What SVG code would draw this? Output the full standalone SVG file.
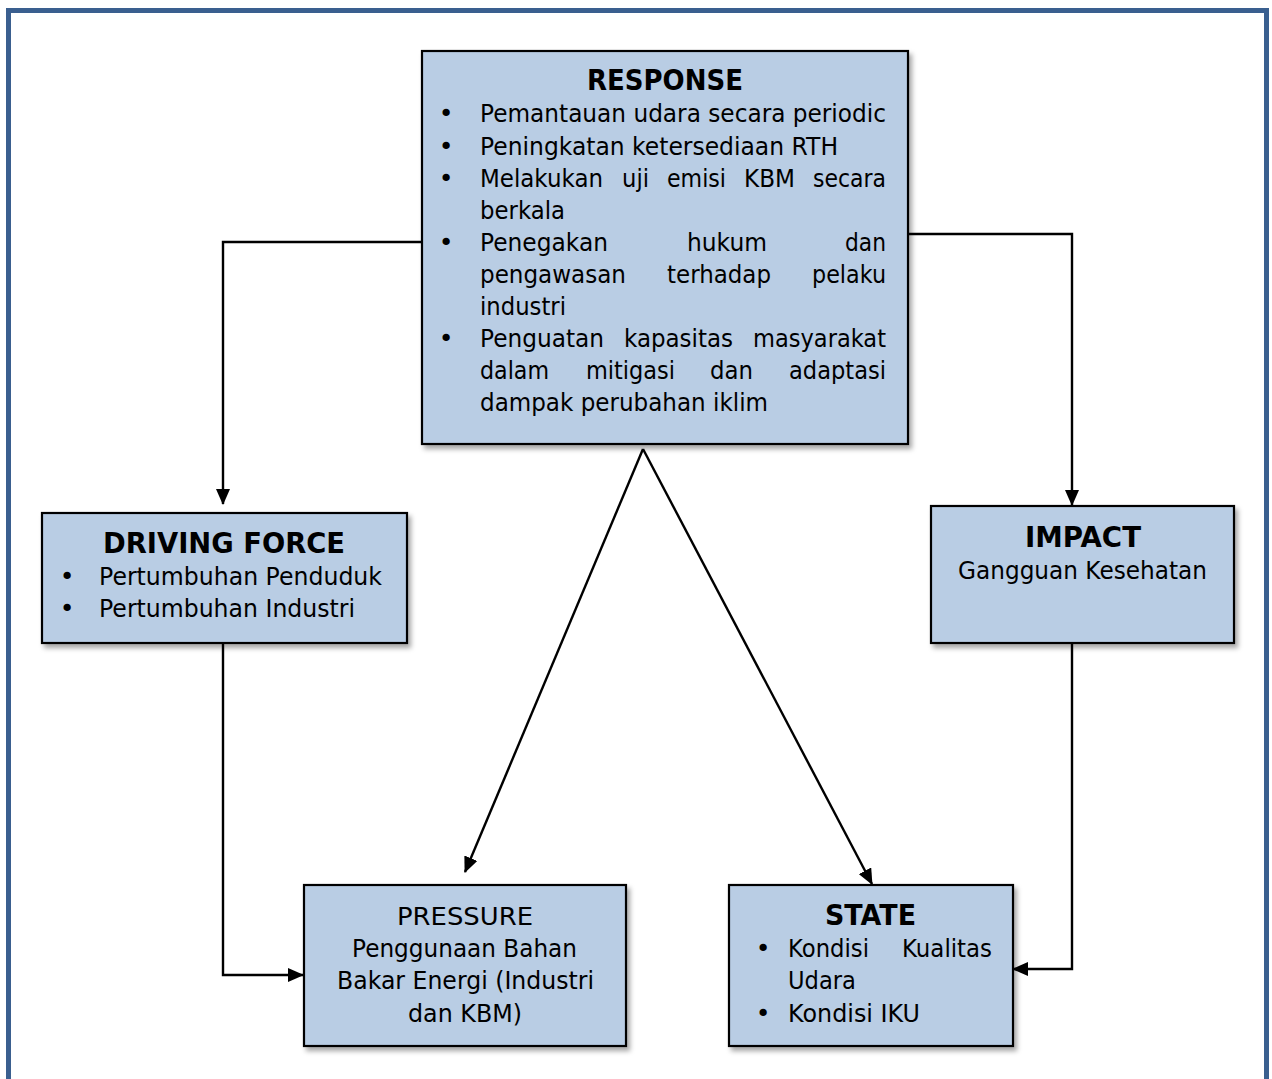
<svg xmlns="http://www.w3.org/2000/svg" width="1272" height="1079" viewBox="0 0 1272 1079">
<defs>
<style>
.box{fill:#b9cde4;stroke:#000;stroke-width:2.2;filter:url(#sh)}
.t{font-family:"DejaVu Sans","Liberation Sans",sans-serif;font-size:25px;fill:#000}
.b{font-family:"DejaVu Sans","Liberation Sans",sans-serif;font-size:28px;font-weight:bold;fill:#000}
.c{fill:none;stroke:#000;stroke-width:2.4}
</style>
<filter id="sh" x="-5%" y="-5%" width="115%" height="120%">
<feDropShadow dx="3" dy="4" stdDeviation="2.5" flood-color="#000" flood-opacity="0.35"/>
</filter>
<marker id="ah" viewBox="0 0 16 14" refX="15" refY="7" markerWidth="16" markerHeight="14" markerUnits="userSpaceOnUse" orient="auto">
<path d="M0,0 L16,7 L0,14 z" fill="#000"/>
</marker>
</defs>
<rect x="0" y="0" width="1272" height="1079" fill="#fff"/>
<rect id="frame" x="8.5" y="10.5" width="1258" height="1100" fill="none" stroke="#3a5f8f" stroke-width="5"/>

<g id="connectors">
<polyline class="c" points="422,242 223,242 223,504" marker-end="url(#ah)"/>
<polyline class="c" points="908,234 1072,234 1072,505" marker-end="url(#ah)"/>
<line class="c" x1="643" y1="449" x2="465" y2="872" marker-end="url(#ah)"/>
<line class="c" x1="643" y1="449" x2="872" y2="884" marker-end="url(#ah)"/>
<polyline class="c" points="223,643 223,975 303,975" marker-end="url(#ah)"/>
<polyline class="c" points="1072,643 1072,969 1013,969" marker-end="url(#ah)"/>
</g>

<g id="response">
<rect class="box" x="422" y="51" width="486" height="393"/>
<text class="b" x="587" y="90" textLength="156" lengthAdjust="spacingAndGlyphs">RESPONSE</text>
<text class="t" x="446" y="122" text-anchor="middle">•</text>
<text class="t" x="480" y="122" textLength="406" lengthAdjust="spacingAndGlyphs">Pemantauan udara secara periodic</text>
<text class="t" x="446" y="155" text-anchor="middle">•</text>
<text class="t" x="480" y="155" textLength="358" lengthAdjust="spacingAndGlyphs">Peningkatan ketersediaan RTH</text>
<text class="t" x="446" y="187" text-anchor="middle">•</text>
<text class="t" x="480" y="187" textLength="123" lengthAdjust="spacingAndGlyphs">Melakukan</text>
<text class="t" x="622" y="187" textLength="27" lengthAdjust="spacingAndGlyphs">uji</text>
<text class="t" x="667" y="187" textLength="59" lengthAdjust="spacingAndGlyphs">emisi</text>
<text class="t" x="744" y="187" textLength="51" lengthAdjust="spacingAndGlyphs">KBM</text>
<text class="t" x="813" y="187" textLength="73" lengthAdjust="spacingAndGlyphs">secara</text>
<text class="t" x="480" y="219" textLength="85" lengthAdjust="spacingAndGlyphs">berkala</text>
<text class="t" x="446" y="251" text-anchor="middle">•</text>
<text class="t" x="480" y="251" textLength="128" lengthAdjust="spacingAndGlyphs">Penegakan</text>
<text class="t" x="687" y="251" textLength="80" lengthAdjust="spacingAndGlyphs">hukum</text>
<text class="t" x="845" y="251" textLength="41" lengthAdjust="spacingAndGlyphs">dan</text>
<text class="t" x="480" y="283" textLength="146" lengthAdjust="spacingAndGlyphs">pengawasan</text>
<text class="t" x="667" y="283" textLength="104" lengthAdjust="spacingAndGlyphs">terhadap</text>
<text class="t" x="812" y="283" textLength="74" lengthAdjust="spacingAndGlyphs">pelaku</text>
<text class="t" x="480" y="315" textLength="86" lengthAdjust="spacingAndGlyphs">industri</text>
<text class="t" x="446" y="347" text-anchor="middle">•</text>
<text class="t" x="480" y="347" textLength="124" lengthAdjust="spacingAndGlyphs">Penguatan</text>
<text class="t" x="624" y="347" textLength="109" lengthAdjust="spacingAndGlyphs">kapasitas</text>
<text class="t" x="753" y="347" textLength="133" lengthAdjust="spacingAndGlyphs">masyarakat</text>
<text class="t" x="480" y="379" textLength="69" lengthAdjust="spacingAndGlyphs">dalam</text>
<text class="t" x="586" y="379" textLength="89" lengthAdjust="spacingAndGlyphs">mitigasi</text>
<text class="t" x="710" y="379" textLength="43" lengthAdjust="spacingAndGlyphs">dan</text>
<text class="t" x="789" y="379" textLength="97" lengthAdjust="spacingAndGlyphs">adaptasi</text>
<text class="t" x="480" y="411" textLength="288" lengthAdjust="spacingAndGlyphs">dampak perubahan iklim</text>
</g>

<g id="driving-force">
<rect class="box" x="42" y="513" width="365" height="130"/>
<text class="b" x="103" y="553" textLength="242" lengthAdjust="spacingAndGlyphs">DRIVING FORCE</text>
<text class="t" x="67" y="585" text-anchor="middle">•</text>
<text class="t" x="99" y="585" textLength="283" lengthAdjust="spacingAndGlyphs">Pertumbuhan Penduduk</text>
<text class="t" x="67" y="617" text-anchor="middle">•</text>
<text class="t" x="99" y="617" textLength="256" lengthAdjust="spacingAndGlyphs">Pertumbuhan Industri</text>
</g>

<g id="impact">
<rect class="box" x="931" y="506" width="303" height="137"/>
<text class="b" x="1025" y="547" textLength="116" lengthAdjust="spacingAndGlyphs">IMPACT</text>
<text class="t" x="958" y="579" textLength="249" lengthAdjust="spacingAndGlyphs">Gangguan Kesehatan</text>
</g>

<g id="pressure">
<rect class="box" x="304" y="885" width="322" height="161"/>
<text class="t" x="397" y="925" textLength="136" lengthAdjust="spacingAndGlyphs">PRESSURE</text>
<text class="t" x="352" y="957" textLength="225" lengthAdjust="spacingAndGlyphs">Penggunaan Bahan</text>
<text class="t" x="337" y="989" textLength="257" lengthAdjust="spacingAndGlyphs">Bakar Energi (Industri</text>
<text class="t" x="408" y="1022" textLength="114" lengthAdjust="spacingAndGlyphs">dan KBM)</text>
</g>

<g id="state">
<rect class="box" x="729" y="885" width="284" height="161"/>
<text class="b" x="825" y="925" textLength="91" lengthAdjust="spacingAndGlyphs">STATE</text>
<text class="t" x="763" y="957" text-anchor="middle">•</text>
<text class="t" x="788" y="957" textLength="81" lengthAdjust="spacingAndGlyphs">Kondisi</text>
<text class="t" x="902" y="957" textLength="90" lengthAdjust="spacingAndGlyphs">Kualitas</text>
<text class="t" x="788" y="989" textLength="68" lengthAdjust="spacingAndGlyphs">Udara</text>
<text class="t" x="763" y="1022" text-anchor="middle">•</text>
<text class="t" x="788" y="1022" textLength="132" lengthAdjust="spacingAndGlyphs">Kondisi IKU</text>
</g>
</svg>
